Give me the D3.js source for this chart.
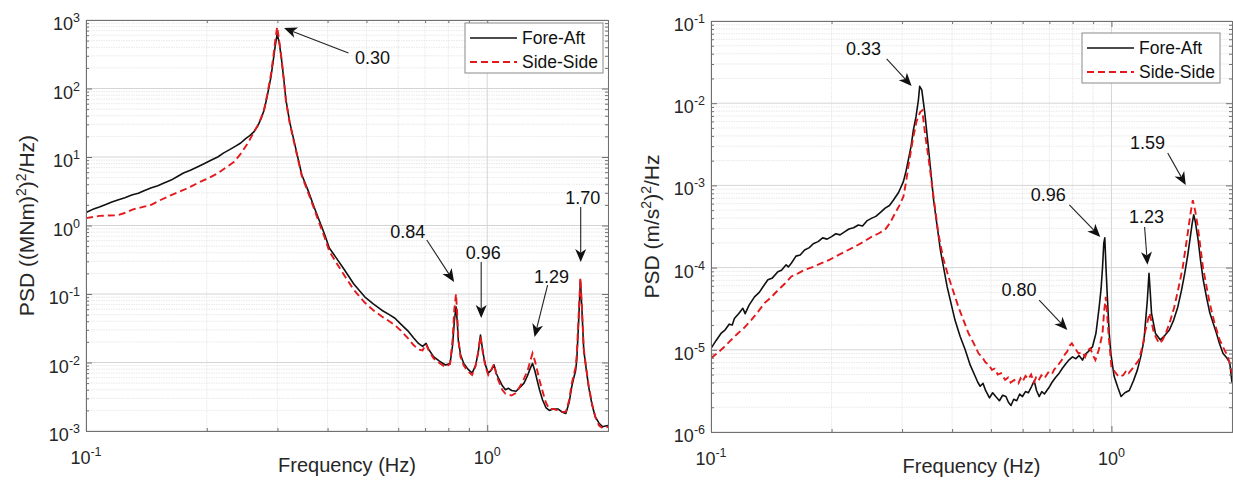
<!DOCTYPE html>
<html>
<head>
<meta charset="utf-8">
<script src="https://cdn.jsdelivr.net/npm/d3@7"></script>
<style>
  body { margin: 0; background: #fff; }
  svg { display: block; font-family: "Liberation Sans", Arial, sans-serif; }
</style>
</head>
<body>
<svg id="chart" width="1233" height="482"></svg>
<script>
// ---- data (frequency Hz, PSD) ----
const freqDomain = [0.1, 2];
const xTickExps = [-1, 0];

// left panel: bending moment PSD
const leftYExps = [-3, -2, -1, 0, 1, 2, 3];
const leftForeAft = [[0.100,1.55],[0.104,1.72],[0.108,1.86],[0.112,2.02],[0.116,2.20],[0.120,2.36],[0.125,2.55],[0.130,2.78],[0.135,2.95],[0.140,3.25],[0.145,3.53],[0.151,3.80],[0.157,4.20],[0.163,4.60],[0.169,5.20],[0.175,5.83],[0.182,6.40],[0.190,7.20],[0.198,8.10],[0.206,9.10],[0.213,10.0],[0.220,11.4],[0.228,12.8],[0.236,14.4],[0.243,16.0],[0.250,18.6],[0.256,20.5],[0.262,23.2],[0.268,28.5],[0.273,36.0],[0.278,48.5],[0.283,78],[0.289,147],[0.293,260],[0.296,404],[0.2995,620],[0.303,480],[0.307,270],[0.311,140],[0.315,68],[0.322,32],[0.334,12.6],[0.345,5.5],[0.358,3.2],[0.371,1.8],[0.381,1.2],[0.393,0.75],[0.404,0.47],[0.420,0.34],[0.441,0.224],[0.465,0.14],[0.495,0.091],[0.520,0.072],[0.546,0.058],[0.570,0.050],[0.589,0.0442],[0.610,0.036],[0.637,0.0282],[0.655,0.023],[0.674,0.019],[0.690,0.0172],[0.704,0.019],[0.715,0.0155],[0.735,0.0122],[0.760,0.0105],[0.787,0.0092],[0.808,0.0097],[0.820,0.018],[0.828,0.040],[0.836,0.065],[0.842,0.040],[0.847,0.0213],[0.858,0.013],[0.874,0.0097],[0.895,0.0080],[0.917,0.0070],[0.935,0.0090],[0.949,0.0136],[0.962,0.0252],[0.970,0.018],[0.980,0.0122],[0.992,0.0088],[1.006,0.0070],[1.025,0.0078],[1.040,0.0092],[1.055,0.0068],[1.070,0.0057],[1.090,0.0046],[1.110,0.0040],[1.130,0.0042],[1.150,0.0039],[1.180,0.0038],[1.210,0.0044],[1.235,0.0050],[1.260,0.0064],[1.280,0.0082],[1.297,0.0097],[1.315,0.0075],[1.330,0.0057],[1.350,0.0040],[1.374,0.00284],[1.400,0.0022],[1.428,0.0020],[1.460,0.0021],[1.500,0.0021],[1.535,0.0019],[1.570,0.0018],[1.600,0.0026],[1.625,0.0045],[1.640,0.0057],[1.660,0.0075],[1.672,0.0109],[1.690,0.040],[1.707,0.160],[1.722,0.060],[1.740,0.0152],[1.765,0.0080],[1.790,0.0044],[1.825,0.0024],[1.860,0.0016],[1.900,0.0013],[1.940,0.00115],[1.970,0.00118],[2.000,0.0012]];
const leftSideSide = [[0.100,1.28],[0.104,1.33],[0.108,1.38],[0.114,1.40],[0.120,1.41],[0.126,1.55],[0.131,1.72],[0.138,1.85],[0.145,1.99],[0.152,2.30],[0.160,2.64],[0.167,2.95],[0.175,3.30],[0.184,3.80],[0.193,4.36],[0.203,5.00],[0.213,5.78],[0.223,7.00],[0.234,8.50],[0.244,11.5],[0.253,15.9],[0.258,19.5],[0.262,23.0],[0.268,29.0],[0.273,37.0],[0.278,50.0],[0.283,82],[0.289,160],[0.293,290],[0.296,480],[0.2995,790],[0.303,500],[0.307,280],[0.311,140],[0.315,66],[0.322,31],[0.334,12],[0.345,5.3],[0.358,3.0],[0.371,1.7],[0.381,1.1],[0.393,0.68],[0.404,0.42],[0.420,0.29],[0.441,0.185],[0.465,0.115],[0.495,0.075],[0.520,0.058],[0.546,0.047],[0.570,0.040],[0.589,0.035],[0.610,0.029],[0.637,0.022],[0.655,0.018],[0.674,0.0155],[0.690,0.0150],[0.704,0.0185],[0.715,0.0150],[0.735,0.0115],[0.760,0.0098],[0.787,0.0086],[0.808,0.0095],[0.820,0.022],[0.828,0.060],[0.836,0.100],[0.842,0.050],[0.847,0.022],[0.858,0.012],[0.874,0.0090],[0.895,0.0074],[0.917,0.0066],[0.935,0.0088],[0.949,0.0140],[0.962,0.0240],[0.970,0.017],[0.980,0.0115],[0.992,0.0084],[1.006,0.0066],[1.025,0.0080],[1.040,0.0095],[1.055,0.0064],[1.070,0.0052],[1.090,0.0040],[1.110,0.0035],[1.130,0.0034],[1.150,0.0033],[1.180,0.0036],[1.210,0.0046],[1.235,0.0058],[1.260,0.0075],[1.280,0.0105],[1.297,0.0136],[1.315,0.0105],[1.330,0.0080],[1.350,0.0055],[1.374,0.0038],[1.400,0.0026],[1.428,0.0021],[1.460,0.0021],[1.500,0.0020],[1.535,0.0019],[1.570,0.0019],[1.600,0.0028],[1.625,0.0050],[1.640,0.0062],[1.660,0.0085],[1.672,0.013],[1.690,0.050],[1.707,0.170],[1.722,0.065],[1.740,0.016],[1.765,0.0082],[1.790,0.0046],[1.825,0.0025],[1.860,0.0016],[1.900,0.0012],[1.940,0.00110],[1.970,0.00112],[2.000,0.00115]];

// left panel peak labels: text position, arrow tail, arrow tip (freq, psd)
const leftPeakLabels = ['0.30', '0.84', '0.96', '1.29', '1.70'];
const leftLabelPos = [[0.518, 279], [0.634, 0.83], [0.977, 0.41], [1.447, 0.183], [1.73, 2.6]];
const leftArrowTail = [[0.451, 330], [0.707, 0.614], [0.966, 0.293], [1.414, 0.135], [1.71, 1.86]];
const leftArrowTip = [[0.3116, 764], [0.827, 0.15], [0.966, 0.0447], [1.312, 0.0236], [1.71, 0.293]];

// right panel: acceleration PSD
const rightYExps = [-6, -5, -4, -3, -2, -1];
const rightForeAft = [[0.1000,1.04e-5],[0.1030,1.30e-5],[0.1059,1.58e-5],[0.1085,1.75e-5],[0.1110,2.05e-5],[0.1130,2.00e-5],[0.1144,2.40e-5],[0.1172,2.75e-5],[0.1201,3.20e-5],[0.1217,2.75e-5],[0.1245,3.50e-5],[0.1284,4.40e-5],[0.1320,5.00e-5],[0.1350,5.90e-5],[0.1387,7.10e-5],[0.1420,7.40e-5],[0.1469,8.90e-5],[0.1500,9.30e-5],[0.1540,1.08e-4],[0.1560,1.02e-4],[0.1587,1.13e-4],[0.1630,1.38e-4],[0.1670,1.42e-4],[0.1713,1.64e-4],[0.1760,1.75e-4],[0.1800,1.95e-4],[0.1851,2.07e-4],[0.1900,2.30e-4],[0.1950,2.22e-4],[0.2000,2.38e-4],[0.2050,2.58e-4],[0.2100,2.50e-4],[0.2160,2.74e-4],[0.2210,2.95e-4],[0.2270,3.05e-4],[0.2333,3.30e-4],[0.2390,3.20e-4],[0.2450,3.70e-4],[0.2521,4.00e-4],[0.2580,4.20e-4],[0.2650,4.70e-4],[0.2722,5.30e-4],[0.2790,5.70e-4],[0.2853,6.60e-4],[0.2940,8.20e-4],[0.3023,1.11e-3],[0.3070,1.50e-3],[0.3110,2.04e-3],[0.3160,3.00e-3],[0.3201,4.70e-3],[0.3250,6.80e-3],[0.3296,1.10e-2],[0.3320,1.60e-2],[0.3360,1.45e-2],[0.3420,7.50e-3],[0.3495,2.70e-3],[0.3597,6.60e-4],[0.3739,1.64e-4],[0.3886,5.90e-5],[0.4067,2.30e-5],[0.4190,1.45e-5],[0.4313,1.00e-5],[0.4440,6.50e-6],[0.4573,4.70e-6],[0.4640,4.00e-6],[0.4700,3.60e-6],[0.4780,3.90e-6],[0.4849,3.20e-6],[0.4960,2.60e-6],[0.5050,3.00e-6],[0.5141,2.70e-6],[0.5250,2.40e-6],[0.5350,2.80e-6],[0.5451,2.70e-6],[0.5530,2.30e-6],[0.5612,2.10e-6],[0.5700,2.50e-6],[0.5800,2.40e-6],[0.5900,2.90e-6],[0.5994,2.70e-6],[0.6100,3.10e-6],[0.6200,3.00e-6],[0.6320,3.60e-6],[0.6413,4.20e-6],[0.6500,3.20e-6],[0.6598,2.70e-6],[0.6700,3.10e-6],[0.6800,2.90e-6],[0.6989,3.50e-6],[0.7100,4.00e-6],[0.7250,4.60e-6],[0.7404,5.20e-6],[0.7550,6.00e-6],[0.7700,6.80e-6],[0.7850,7.60e-6],[0.7993,8.20e-6],[0.8150,7.80e-6],[0.8300,8.50e-6],[0.8467,7.50e-6],[0.8600,8.80e-6],[0.8750,9.50e-6],[0.8968,1.09e-5],[0.9150,1.60e-5],[0.9318,3.30e-5],[0.9420,5.50e-5],[0.9499,1.00e-4],[0.9570,2.00e-4],[0.9625,2.30e-4],[0.9700,9.00e-5],[0.9776,4.00e-5],[0.9870,1.60e-5],[0.9967,9.00e-6],[1.0150,4.80e-6],[1.0370,3.50e-6],[1.0570,2.70e-6],[1.0800,3.00e-6],[1.1080,3.20e-6],[1.1350,4.20e-6],[1.1610,5.70e-6],[1.1850,8.50e-6],[1.2060,1.32e-5],[1.2200,2.60e-5],[1.2290,4.00e-5],[1.2410,8.50e-5],[1.2500,5.00e-5],[1.2590,2.80e-5],[1.2880,1.58e-5],[1.3250,1.32e-5],[1.3600,1.50e-5],[1.3950,1.74e-5],[1.4300,2.30e-5],[1.4640,3.30e-5],[1.4950,5.20e-5],[1.5240,8.50e-5],[1.5500,1.40e-4],[1.5700,2.17e-4],[1.5900,3.40e-4],[1.6050,4.40e-4],[1.6200,3.60e-4],[1.6460,2.17e-4],[1.6700,1.20e-4],[1.6950,7.10e-5],[1.7300,4.20e-5],[1.7610,2.80e-5],[1.8300,1.58e-5],[1.8600,1.20e-5],[1.9000,9.00e-6],[1.9400,8.00e-6],[1.9740,7.00e-6],[2.0000,4.00e-6]];
const rightSideSide = [[0.1000,7.9e-6],[0.1040,9.2e-6],[0.1080,1.09e-5],[0.1120,1.30e-5],[0.1166,1.58e-5],[0.1210,1.85e-5],[0.1260,2.30e-5],[0.1310,2.90e-5],[0.1360,3.70e-5],[0.1410,4.30e-5],[0.1469,5.30e-5],[0.1530,6.40e-5],[0.1587,7.80e-5],[0.1650,8.50e-5],[0.1713,9.40e-5],[0.1800,1.02e-4],[0.1887,1.13e-4],[0.1980,1.25e-4],[0.2078,1.42e-4],[0.2180,1.60e-4],[0.2286,1.80e-4],[0.2400,2.05e-4],[0.2521,2.38e-4],[0.2620,2.60e-4],[0.2722,2.90e-4],[0.2800,3.50e-4],[0.2883,4.60e-4],[0.2960,5.80e-4],[0.3023,7.30e-4],[0.3070,1.10e-3],[0.3110,1.70e-3],[0.3160,2.70e-3],[0.3201,3.90e-3],[0.3260,6.00e-3],[0.3330,7.80e-3],[0.3370,8.20e-3],[0.3423,4.30e-3],[0.3490,2.20e-3],[0.3559,1.06e-3],[0.3696,2.60e-4],[0.3800,1.30e-4],[0.3916,7.80e-5],[0.4150,3.30e-5],[0.4397,1.58e-5],[0.4530,1.20e-5],[0.4659,9.0e-6],[0.4750,8.2e-6],[0.4850,7.0e-6],[0.4940,6.6e-6],[0.5028,5.7e-6],[0.5110,5.9e-6],[0.5200,5.0e-6],[0.5300,5.2e-6],[0.5426,4.3e-6],[0.5520,4.6e-6],[0.5600,4.0e-6],[0.5720,4.3e-6],[0.5856,3.9e-6],[0.5930,4.5e-6],[0.6000,4.1e-6],[0.6100,4.8e-6],[0.6203,4.4e-6],[0.6300,5.0e-6],[0.6400,4.0e-6],[0.6480,4.6e-6],[0.6572,4.2e-6],[0.6680,4.9e-6],[0.6800,4.5e-6],[0.6950,5.3e-6],[0.7096,5.0e-6],[0.7200,5.8e-6],[0.7300,6.2e-6],[0.7420,6.9e-6],[0.7517,7.5e-6],[0.7650,8.8e-6],[0.7750,9.5e-6],[0.7860,1.12e-5],[0.7963,1.20e-5],[0.8100,1.05e-5],[0.8277,9.00e-6],[0.8450,9.40e-6],[0.8598,8.20e-6],[0.8720,9.80e-6],[0.8854,1.04e-5],[0.9000,8.50e-6],[0.9118,7.50e-6],[0.9300,1.00e-5],[0.9499,1.58e-5],[0.9590,3.00e-5],[0.9680,4.40e-5],[0.9770,2.40e-5],[0.9863,1.32e-5],[1.0000,6.20e-6],[1.0200,5.40e-6],[1.0425,4.70e-6],[1.0700,4.90e-6],[1.0900,5.60e-6],[1.1047,5.20e-6],[1.1400,6.30e-6],[1.1706,7.50e-6],[1.1950,1.10e-5],[1.2164,1.74e-5],[1.2452,2.80e-5],[1.2772,1.58e-5],[1.3148,1.20e-5],[1.3400,1.30e-5],[1.3667,1.58e-5],[1.4000,2.20e-5],[1.4347,3.30e-5],[1.4700,5.60e-5],[1.5062,1.00e-4],[1.5502,2.60e-4],[1.5750,4.50e-4],[1.5963,6.60e-4],[1.6200,4.80e-4],[1.6437,3.10e-4],[1.6925,1.00e-4],[1.7589,3.70e-5],[1.8100,2.10e-5],[1.8630,1.32e-5],[1.9531,8.20e-6],[2.0000,5.20e-6]];

const rightPeakLabels = ['0.33', '0.80', '0.96', '1.23', '1.59'];
const rightLabelPos = [[0.2404, 0.0469], [0.588, 5.34e-5], [0.695, 7.64e-4], [1.224, 4.13e-4], [1.231, 3.37e-3]];
const rightArrowTail = [[0.2746, 0.0345], [0.66, 4.03e-5], [0.785, 5.78e-4], [1.21, 3.12e-4], [1.382, 2.48e-3]];
const rightArrowTip = [[0.317, 0.0162], [0.776, 1.74e-5], [0.938, 2.36e-4], [1.23, 1.08e-4], [1.533, 1.01e-3]];

const seriesNames = ['Fore-Aft', 'Side-Side'];

// ---- drawing ----
const svg = d3.select('#chart');
const faColor = '#111';
const ssColor = '#e3191c';

function powerLabel(sel, exp) {
  sel.append('tspan').text('10');
  sel.append('tspan').attr('dy', -8).attr('font-size', 12.5).text(exp);
}

function drawPanel(p, idx) {
  const x = d3.scaleLog().domain(freqDomain).range([p.left, p.right]);
  const y = d3.scaleLog()
    .domain([Math.pow(10, d3.min(p.yExps)), Math.pow(10, d3.max(p.yExps))])
    .range([p.bottom, p.top]);
  const g = svg.append('g');

  const xMajor = xTickExps.map(e => Math.pow(10, e));
  const xMinor = [0.2, 0.3, 0.4, 0.5, 0.6, 0.7, 0.8, 0.9, 2];
  const yMajor = p.yExps.map(e => Math.pow(10, e));
  const yMinor = [];
  p.yExps.slice(0, -1).forEach(e => {
    for (let k = 2; k <= 9; k++) yMinor.push(k * Math.pow(10, e));
  });

  // grid
  g.append('g').selectAll('line').data(xMinor).join('line')
    .attr('x1', d => x(d)).attr('x2', d => x(d))
    .attr('y1', p.top).attr('y2', p.bottom)
    .attr('stroke', '#e2e2e2').attr('stroke-width', 0.8).attr('stroke-dasharray', '1.5,1');
  g.append('g').selectAll('line').data(yMinor).join('line')
    .attr('x1', p.left).attr('x2', p.right)
    .attr('y1', d => y(d)).attr('y2', d => y(d))
    .attr('stroke', '#e2e2e2').attr('stroke-width', 0.8).attr('stroke-dasharray', '1.5,1');
  g.append('g').selectAll('line').data(xMajor).join('line')
    .attr('x1', d => x(d)).attr('x2', d => x(d))
    .attr('y1', p.top).attr('y2', p.bottom)
    .attr('stroke', '#d0d0d0').attr('stroke-width', 0.9);
  g.append('g').selectAll('line').data(yMajor).join('line')
    .attr('x1', p.left).attr('x2', p.right)
    .attr('y1', d => y(d)).attr('y2', d => y(d))
    .attr('stroke', '#d0d0d0').attr('stroke-width', 0.9);

  // curves
  const clipId = 'clip' + idx;
  svg.append('clipPath').attr('id', clipId).append('rect')
    .attr('x', p.left).attr('y', p.top)
    .attr('width', p.right - p.left).attr('height', p.bottom - p.top);
  const line = d3.line().x(d => x(d[0])).y(d => y(d[1]));
  const curves = g.append('g').attr('clip-path', `url(#${clipId})`);
  curves.append('path').datum(p.fa).attr('d', line)
    .attr('fill', 'none').attr('stroke', faColor).attr('stroke-width', 1.6)
    .attr('stroke-linejoin', 'round');
  curves.append('path').datum(p.ss).attr('d', line)
    .attr('fill', 'none').attr('stroke', ssColor).attr('stroke-width', 1.9)
    .attr('stroke-dasharray', '7,4');

  // axes with inward ticks on all four sides
  const axisColor = '#707070';
  const sides = [
    [d3.axisBottom, x, `translate(0,${p.bottom})`],
    [d3.axisTop, x, `translate(0,${p.top})`],
    [d3.axisLeft, y, `translate(${p.left},0)`],
    [d3.axisRight, y, `translate(${p.right},0)`]
  ];
  sides.forEach(([mk, sc, tr], i) => {
    const major = i < 2 ? xMajor : yMajor;
    const minor = i < 2 ? xMinor : yMinor;
    [[major, -6], [minor, -3]].forEach(([vals, len]) => {
      const ax = g.append('g').attr('transform', tr)
        .call(mk(sc).tickValues(vals).tickSize(len).tickSizeOuter(0).tickFormat(''));
      ax.selectAll('line').attr('stroke', axisColor);
      ax.select('.domain').attr('stroke', axisColor);
    });
  });

  // tick labels
  g.append('g').selectAll('text').data(xTickExps).join('text')
    .attr('x', d => x(Math.pow(10, d))).attr('y', p.bottom + 33)
    .attr('text-anchor', 'middle').attr('font-size', 18).attr('fill', '#262626')
    .each(function(d) { powerLabel(d3.select(this), d); });
  g.append('g').selectAll('text').data(p.yExps).join('text')
    .attr('x', p.left - 6).attr('y', d => y(Math.pow(10, d)) + 10)
    .attr('text-anchor', 'end').attr('font-size', 18).attr('fill', '#262626')
    .each(function(d) { powerLabel(d3.select(this), d); });

  // axis titles
  g.append('text')
    .attr('x', (p.left + p.right) / 2).attr('y', p.bottom + 41)
    .attr('text-anchor', 'middle').attr('font-size', 20).attr('fill', '#262626')
    .text('Frequency (Hz)');
  const yt = g.append('text')
    .attr('transform', `translate(${p.left - 52},${(p.top + p.bottom) / 2}) rotate(-90)`)
    .attr('text-anchor', 'middle').attr('font-size', 21).attr('fill', '#262626');
  p.yTitle.forEach(([txt, sup], i) => {
    const t = yt.append('tspan').text(txt);
    if (sup) t.attr('dy', -8).attr('font-size', 14);
    else if (i > 0 && p.yTitle[i - 1][1]) t.attr('dy', 8);
  });

  // peak labels and arrows
  const ann = g.append('g');
  p.labels.forEach((lab, i) => {
    const [tx, ty] = [x(p.tail[i][0]), y(p.tail[i][1])];
    const [hx, hy] = [x(p.tip[i][0]), y(p.tip[i][1])];
    const ang = Math.atan2(hy - ty, hx - tx);
    const L = 13, W = 5.5;
    const bx = hx - L * Math.cos(ang), by = hy - L * Math.sin(ang);
    const nx = hx - 0.72 * L * Math.cos(ang), ny = hy - 0.72 * L * Math.sin(ang);
    ann.append('line').attr('x1', tx).attr('y1', ty).attr('x2', nx).attr('y2', ny)
      .attr('stroke', '#222').attr('stroke-width', 1.1);
    ann.append('path')
      .attr('d', `M${hx},${hy}L${bx + W * Math.sin(ang)},${by - W * Math.cos(ang)}` +
                 `L${nx},${ny}L${bx - W * Math.sin(ang)},${by + W * Math.cos(ang)}Z`)
      .attr('fill', '#111');
    ann.append('text')
      .attr('x', x(p.labelPos[i][0])).attr('y', y(p.labelPos[i][1]))
      .attr('dy', '0.36em').attr('text-anchor', 'middle')
      .attr('font-size', 18).attr('fill', '#111').text(lab);
  });

  // legend
  const lg = g.append('g').attr('transform', `translate(${p.right - p.legendRight},${p.top + p.legendTop})`);
  lg.append('rect').attr('width', 138).attr('height', 50)
    .attr('fill', '#fff').attr('stroke', '#8a8a8a').attr('stroke-width', 1);
  seriesNames.forEach((name, i) => {
    const ly = 15 + i * 24;
    lg.append('line').attr('x1', 5).attr('x2', 52).attr('y1', ly).attr('y2', ly)
      .attr('stroke', i === 0 ? faColor : ssColor)
      .attr('stroke-width', i === 0 ? 1.6 : 1.9)
      .attr('stroke-dasharray', i === 0 ? null : '7,4');
    lg.append('text').attr('x', 57).attr('y', ly).attr('dy', '0.36em')
      .attr('font-size', 17.5).attr('fill', '#111').text(name);
  });
}

drawPanel({
  left: 86, right: 608, top: 20, bottom: 431,
  yExps: leftYExps, fa: leftForeAft, ss: leftSideSide,
  labels: leftPeakLabels, labelPos: leftLabelPos, tail: leftArrowTail, tip: leftArrowTip,
  yTitle: [['PSD ((MNm)', false], ['2', true], [')', false], ['2', true], ['/Hz)', false]],
  legendRight: 143, legendTop: 3
}, 0);

drawPanel({
  left: 711, right: 1232, top: 21, bottom: 432,
  yExps: rightYExps, fa: rightForeAft, ss: rightSideSide,
  labels: rightPeakLabels, labelPos: rightLabelPos, tail: rightArrowTail, tip: rightArrowTip,
  yTitle: [['PSD (m/s', false], ['2', true], [')', false], ['2', true], ['/Hz', false]],
  legendRight: 150, legendTop: 12
}, 1);
</script>
</body>
</html>
